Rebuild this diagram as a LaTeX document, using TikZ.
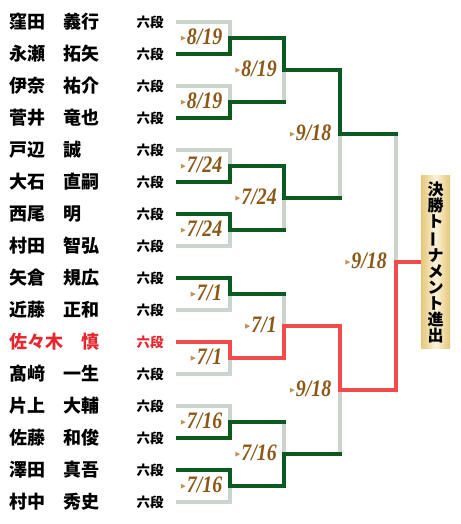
\documentclass[tikz,border=0pt]{standalone}
\usepackage{fontspec}
\setmainfont{Liberation Serif}
\newfontfamily\jp{Noto Sans CJK JP}
\definecolor{wincol}{HTML}{0B5A20}
\definecolor{losecol}{HTML}{C9D4CD}
\definecolor{herocol}{HTML}{F24B4B}
\definecolor{datecol}{HTML}{8A5716}
\definecolor{tricol}{HTML}{C4925E}
\definecolor{namered}{HTML}{E8262D}
\definecolor{goldedge}{HTML}{E6C677}
\definecolor{goldmid}{HTML}{FBF3DA}
\newcommand{\tri}{\tikz[baseline=0pt]\fill[tricol] (0pt,3.8pt) -- (5pt,6.3pt) -- (0pt,8.8pt) -- cycle;\hspace{1.2pt}}
\newcommand{\dtext}[1]{\tri\scalebox{0.97}[1.15]{#1}}
\begin{document}
\begin{tikzpicture}[x=1pt,y=-1pt,
  bline/.style={line width=4pt, line cap=rect, line join=miter},
  lose/.style={bline, draw=losecol},
  win/.style={bline, draw=wincol},
  hero/.style={bline, draw=herocol},
  namel/.style={anchor=base west, inner sep=0pt, font=\jp\bfseries\fontsize{18}{18}\selectfont, text=black},
  rankl/.style={anchor=base west, inner sep=0pt, font=\jp\bfseries\fontsize{13.5}{13.5}\selectfont, text=black},
  datel/.style={anchor=base east, inner sep=0pt, xshift=-7pt, yshift=-6.5pt, font=\bfseries\itshape\fontsize{20.5}{20.5}\selectfont, text=datecol},
  goldbox/.style={minimum width=29pt, minimum height=173pt, inner sep=0pt, left color=goldedge, right color=goldedge, middle color=goldmid, align=center, font=\jp\bfseries\fontsize{16}{16}\selectfont, text=black},
]
\useasboundingbox (0,0) rectangle (460,524);

% names
\node[namel] (n0)  at (9.5, 28.8) {窪田　義行};
\node[namel] (n1)  at (9.5, 60.8) {永瀬　拓矢};
\node[namel] (n2)  at (9.5, 92.8) {伊奈　祐介};
\node[namel] (n3)  at (9.5,124.8) {菅井　竜也};
\node[namel] (n4)  at (9.5,156.8) {戸辺　誠};
\node[namel] (n5)  at (9.5,188.8) {大石　直嗣};
\node[namel] (n6)  at (9.5,220.8) {西尾　明};
\node[namel] (n7)  at (9.5,252.8) {村田　智弘};
\node[namel] (n8)  at (9.5,284.8) {矢倉　規広};
\node[namel] (n9)  at (9.5,316.8) {近藤　正和};
\node[namel, text=namered] (n10) at (9.5,348.8) {佐々木　慎};
\node[namel] (n11) at (9.5,380.8) {髙﨑　一生};
\node[namel] (n12) at (9.5,412.8) {片上　大輔};
\node[namel] (n13) at (9.5,444.8) {佐藤　和俊};
\node[namel] (n14) at (9.5,476.8) {澤田　真吾};
\node[namel] (n15) at (9.5,508.8) {村中　秀史};

\foreach \i in {0,...,15}{
  \ifnum\i=10
    \node[rankl, text=namered] (k\i) at (136.5,{27.1+32*\i}) {六段};
  \else
    \node[rankl] (k\i) at (136.5,{27.1+32*\i}) {六段};
  \fi
  \coordinate (s\i) at (178,{22+32*\i});
}

% match points
\coordinate (m1) at (229.5, 38);
\coordinate (m2) at (229.5,102);
\coordinate (m3) at (229.5,166);
\coordinate (m4) at (229.5,230);
\coordinate (m5) at (229.5,294);
\coordinate (m6) at (229.5,358);
\coordinate (m7) at (229.5,422);
\coordinate (m8) at (229.5,486);
\coordinate (r1) at (284, 70);
\coordinate (r2) at (284,198);
\coordinate (r3) at (284,326);
\coordinate (r4) at (284,454);
\coordinate (q1) at (339.5,134);
\coordinate (q2) at (339.5,390);
\coordinate (f)  at (396,262);

\node[goldbox] (final) at (435.5,262) {決\\勝\\ト\\\rotatebox[origin=c]{90}{ー}\\ナ\\メ\\ン\\ト\\進\\出};

% losers (grey)
\draw[lose] (s0) -| (m1);
\draw[lose] (s2) -| (m2);
\draw[lose] (s4) -| (m3);
\draw[lose] (s7) -| (m4);
\draw[lose] (s9) -| (m5);
\draw[lose] (s11) -| (m6);
\draw[lose] (s12) -| (m7);
\draw[lose] (s15) -| (m8);
\draw[lose] (m2 -| r1) -- (r1);
\draw[lose] (m4 -| r2) -- (r2);
\draw[lose] (m5 -| r3) -- (r3);
\draw[lose] (m7 -| r4) -- (r4);
\draw[lose] (r2 -| q1) -- (q1);
\draw[lose] (r4 -| q2) -- (q2);
\draw[lose] (q1 -| f) -- (f);

% winners (green)
\draw[win] (s1) -| (m1) -- (m1 -| r1) -- (r1) -- (r1 -| q1) -- (q1) -- (q1 -| f);
\draw[win] (s3) -| (m2) -- (m2 -| r1);
\draw[win] (s5) -| (m3) -- (m3 -| r2) -- (r2) -- (r2 -| q1);
\draw[win] (s6) -| (m4) -- (m4 -| r2);
\draw[win] (s8) -| (m5) -- (m5 -| r3);
\draw[win] (s13) -| (m7) -- (m7 -| r4);
\draw[win] (s14) -| (m8) -- (m8 -| r4) -- (r4) -- (r4 -| q2);

% hero (red)
\draw[hero, shorten >=2pt] (s10) -| (m6) -- (m6 -| r3) -- (r3) -- (r3 -| q2) -- (q2) -- (q2 -| f) -- (f) -- (final.west);

% dates
\node[datel] (d1) at (m1) {\dtext{8/19}};
\node[datel] (d2) at (m2) {\dtext{8/19}};
\node[datel] (d3) at (m3) {\dtext{7/24}};
\node[datel] (d4) at (m4) {\dtext{7/24}};
\node[datel] (d5) at (m5) {\dtext{7/1}};
\node[datel] (d6) at (m6) {\dtext{7/1}};
\node[datel] (d7) at (m7) {\dtext{7/16}};
\node[datel] (d8) at (m8) {\dtext{7/16}};
\node[datel] (e1) at (r1) {\dtext{8/19}};
\node[datel] (e2) at (r2) {\dtext{7/24}};
\node[datel] (e3) at (r3) {\dtext{7/1}};
\node[datel] (e4) at (r4) {\dtext{7/16}};
\node[datel, xshift=-1pt] (g1) at (q1) {\dtext{9/18}};
\node[datel, xshift=-1pt] (g2) at (q2) {\dtext{9/18}};
\node[datel, xshift=-2pt] (h1) at (f) {\dtext{9/18}};
\end{tikzpicture}
\end{document}
